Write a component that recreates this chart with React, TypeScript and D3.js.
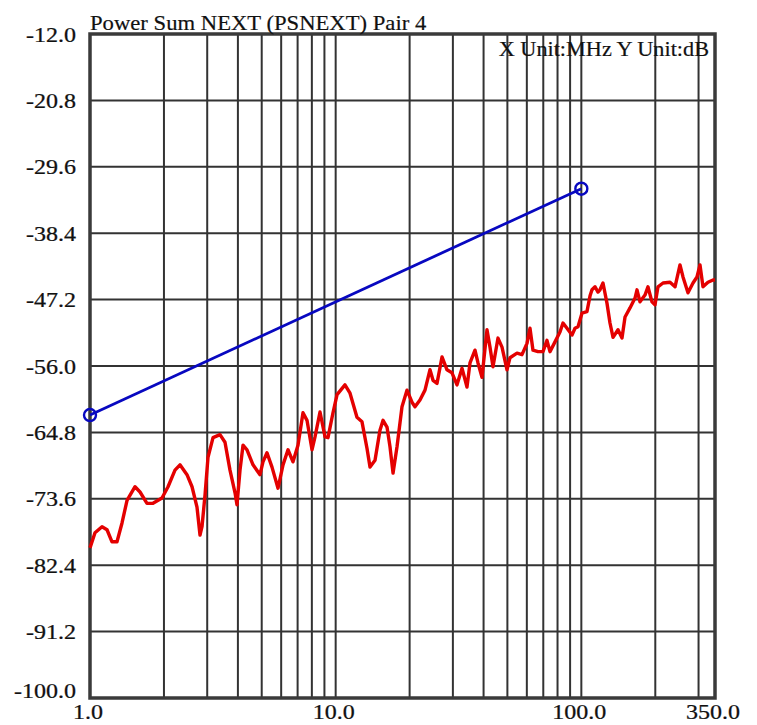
import React from "react";
import * as d3 from "d3";

const TITLE = "Power Sum NEXT (PSNEXT) Pair 4";
const UNITS = "X Unit:MHz Y Unit:dB";

const yTicks = [-12.0, -20.8, -29.6, -38.4, -47.2, -56.0, -64.8, -73.6, -82.4, -91.2, -100.0];
const xGrid = [2, 3, 4, 5, 6, 7, 8, 9, 10, 20, 30, 40, 50, 60, 70, 80, 90, 100, 200, 300];
const xLabels = [1, 10, 100, 350];

const limitFreq = [1, 100];
const limitDb = [-62.5, -32.5];

const measFreq = [
  1.0, 1.048, 1.119, 1.173, 1.229, 1.288, 1.35, 1.415, 1.525, 1.598, 1.706, 1.805, 1.964, 2.078,
  2.218, 2.324, 2.482, 2.602, 2.726, 2.804, 2.857, 2.939, 3.022, 3.168, 3.382, 3.544, 3.714, 3.893,
  3.966, 4.08, 4.196, 4.356, 4.608, 4.92, 5.06, 5.253, 5.506, 5.825, 6.105, 6.397, 6.704, 7.025,
  7.362, 7.644, 8.011, 8.239, 8.634, 9.051, 9.308, 9.752, 10.13, 10.91, 11.44, 12.21, 12.8, 13.41,
  13.8, 14.46, 15.15, 15.59, 16.18, 16.64, 17.12, 17.77, 18.62, 19.51, 20.45, 21.03, 22.04, 23.1,
  24.21, 24.9, 25.85, 27.09, 28.39, 29.75, 31.18, 32.68, 34.24, 35.22, 36.91, 37.96, 39.41, 41.3,
  42.48, 43.69, 45.79, 47.54, 49.82, 51.24, 54.71, 57.34, 60.09, 61.8, 63.56, 66.61, 69.8, 72.47,
  74.53, 78.12, 81.86, 84.2, 87.42, 91.62, 94.23, 96.92, 100.6, 105.4, 108.5, 110.5, 113.7, 116.9,
  119.1, 122.5, 127.2, 130.8, 134.6, 141.0, 146.4, 150.6, 157.8, 165.4, 168.5, 173.3, 181.6, 186.7,
  193.9, 199.4, 205.1, 215.0, 229.6, 240.6, 252.1, 259.3, 271.7, 284.8, 295.6, 304.1, 312.7, 327.7,
  343.5, 350.0,
];
const measDb = [
  -80.1, -78.1, -77.3, -77.7, -79.3, -79.3, -76.8, -73.8, -72.0, -72.7, -74.2, -74.2, -73.5, -72.0,
  -69.8, -69.1, -70.4, -72.0, -74.7, -78.4, -77.3, -73.1, -68.1, -65.5, -65.1, -66.1, -69.8, -72.8,
  -74.4, -69.8, -66.5, -67.1, -69.1, -70.4, -68.7, -67.5, -69.4, -72.2, -69.1, -67.1, -68.7, -66.5,
  -62.2, -63.2, -67.1, -65.4, -62.1, -65.4, -65.5, -62.2, -59.8, -58.5, -59.6, -62.8, -63.4, -66.9,
  -69.4, -68.5, -64.5, -63.2, -64.1, -66.7, -70.2, -66.7, -61.4, -59.2, -60.8, -61.4, -60.5, -59.2,
  -56.5, -57.9, -58.3, -54.8, -56.5, -56.9, -58.5, -56.3, -58.8, -55.6, -53.9, -55.6, -57.5, -51.2,
  -53.5, -56.1, -52.3, -53.5, -56.5, -54.9, -54.3, -54.5, -53.0, -51.0, -53.9, -54.1, -54.1, -52.6,
  -54.1, -52.8, -51.5, -50.3, -51.0, -51.9, -51.0, -50.8, -49.0, -48.8, -46.7, -45.9, -45.5, -46.2,
  -45.9, -45.0, -47.7, -50.3, -52.2, -51.2, -52.3, -49.5, -48.3, -47.0, -45.9, -47.5, -46.6, -45.5,
  -47.5, -47.9, -45.5, -45.0, -44.9, -45.5, -42.6, -44.2, -46.3, -45.0, -44.2, -42.6, -45.5, -44.9,
  -44.6, -44.6,
];

const W = 757;
const H = 725;
const L = 90, R = 715, T = 34, B = 698;

export default function App() {
  const x = d3.scaleLog().domain([1, 350]).range([L, R]);
  const y = d3.scaleLinear().domain([-100, -12]).range([B, T]);

  const meas = measFreq.map((f, i) => [f, measDb[i]] as [number, number]);
  const limit = limitFreq.map((f, i) => [f, limitDb[i]] as [number, number]);
  const line = d3.line<[number, number]>().x((d) => x(d[0])).y((d) => y(d[1]));

  const font = "'Liberation Serif', 'Times New Roman', serif";
  const gridColor = "#333";

  return (
    <svg
      width={W}
      height={H}
      style={{ position: "absolute", left: 0, top: 0, background: "#fff" }}
      fontFamily={font}
    >
      <rect x={0} y={0} width={W} height={H} fill="#fff" />
      {yTicks.map((t) => (
        <line key={"y" + t} x1={L} x2={R} y1={y(t)} y2={y(t)} stroke={gridColor} strokeWidth={2} />
      ))}
      {xGrid.map((t) => (
        <line key={"x" + t} x1={x(t)} x2={x(t)} y1={T} y2={B} stroke={gridColor} strokeWidth={2} />
      ))}
      <rect x={L} y={T} width={R - L} height={B - T} fill="none" stroke="#3a3a3a" strokeWidth={3.5} />

      <path d={line(limit) || ""} fill="none" stroke="#0808c0" strokeWidth={2.8} />
      {limit.map((d, i) => (
        <circle key={"c" + i} cx={x(d[0])} cy={y(d[1])} r={6} fill="none" stroke="#0808c0" strokeWidth={2.4} />
      ))}

      <path d={line(meas) || ""} fill="none" stroke="#e40000" strokeWidth={3.4} strokeLinejoin="round" />

      {yTicks.map((t, i) => (
        <text
          key={"yl" + t}
          transform={`translate(76,${y(t) + (i === yTicks.length - 1 ? 0 : 7.5)}) scale(1.2,1)`}
          textAnchor="end"
          fontSize={20}
          fill="#111"
          stroke="#111"
          strokeWidth={0.25}
        >
          {t.toFixed(1)}
        </text>
      ))}
      {xLabels.map((t) => (
        <text
          key={"xl" + t}
          transform={`translate(${x(t) - 2},${B + 21}) scale(1.2,1)`}
          textAnchor="middle"
          fontSize={20}
          fill="#111"
          stroke="#111"
          strokeWidth={0.25}
        >
          {t.toFixed(1)}
        </text>
      ))}

      <text transform={`translate(${L},30) scale(1.03,1)`} fontSize={22} fill="#111" stroke="#111" strokeWidth={0.2}>
        {TITLE}
      </text>
      <text
        transform={`translate(709,56) scale(1.06,1)`}
        textAnchor="end"
        fontSize={21}
        fill="#111"
        stroke="#111"
        strokeWidth={0.2}
      >
        {UNITS}
      </text>
    </svg>
  );
}
